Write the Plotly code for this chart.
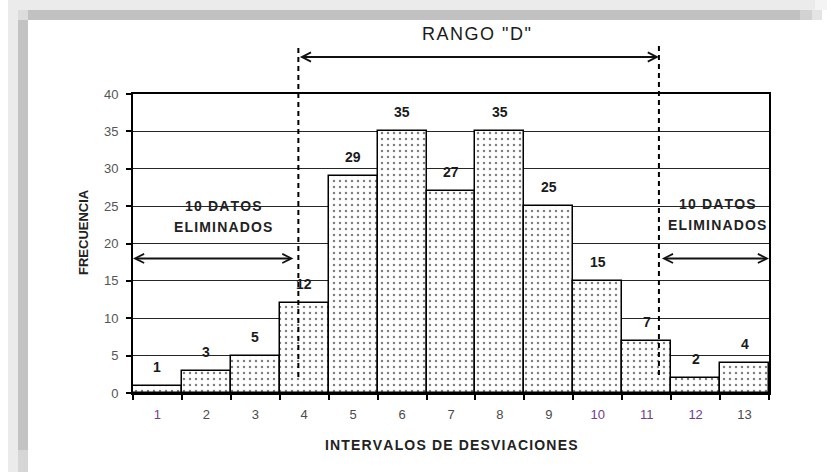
import plotly.graph_objects as go

# ---------------- data ----------------
categories = list(range(1, 14))
frequencies = [1, 3, 5, 12, 29, 35, 27, 35, 25, 15, 7, 2, 4]
tick_labels = [str(c) for c in categories]
purple_ticks = [1, 10, 11, 12]
y_ticks = [0, 5, 10, 15, 20, 25, 30, 35, 40]

range_title = 'RANGO "D"'
removed_line1 = "10 DATOS"
removed_line2 = "ELIMINADOS"
y_title = "FRECUENCIA"
x_title = "INTERVALOS DE DESVIACIONES"

# positions of annotation guides (data units of the x axis)
range_start = 3.88
range_end = 11.25
side_arrow_y = 18

# ---------------- layout geometry ----------------
W, H = 827, 472
L, R, T, B = 133, 58, 94, 79
PW = W - L - R
PH = H - T - B


def px(x):
    return (x - L) / PW


def py(y):
    return (H - B - y) / PH


FONT = "Liberation Sans, Arial, sans-serif"
HS = "\u200a"


def spaced(s):
    return HS.join(list(s))


fig = go.Figure()
fig.add_trace(go.Bar(
    x=categories,
    y=frequencies,
    width=1,
    marker=dict(
        color="white",
        line=dict(color="black", width=1.5),
        pattern=dict(shape=".", fgcolor="black", bgcolor="white", size=6, solidity=0.13),
    ),
    hoverinfo="x+y",
    showlegend=False,
))

ticktext = []
for c, t in zip(categories, tick_labels):
    col = "#70408a" if c in purple_ticks else "#4a4a4a"
    ticktext.append(f"<span style='color:{col}'>{t}</span>")

annotations = []
for c, v in zip(categories, frequencies):
    annotations.append(dict(
        x=c, y=v, xref="x", yref="y", text=f"<b>{v}</b>", showarrow=False,
        xanchor="center", yanchor="middle",
        yshift=19, font=dict(family=FONT, size=14, color="#1a1a1a"),
    ))

arrow_style = dict(text="", showarrow=True, arrowhead=5, arrowside="end+start",
                   arrowwidth=2, arrowsize=0.9, arrowcolor="#111", standoff=0, startstandoff=0)
# range arrow
annotations.append(dict(x=range_end, y=py(57), xref="x", yref="paper",
                        ax=range_start, ay=0, axref="x", ayref="pixel", **arrow_style))
# left arrow
annotations.append(dict(x=0.5, y=side_arrow_y, xref="x", yref="y",
                        ax=range_start - 0.07, ay=0, axref="x", ayref="pixel", **arrow_style))
# right arrow
annotations.append(dict(x=13.5, y=side_arrow_y, xref="x", yref="y",
                        ax=range_end + 0.03, ay=0, axref="x", ayref="pixel", **arrow_style))


def label(xp, yp, text, size, bold=True, angle=0, color="#222"):
    t = f"<b>{text}</b>" if bold else text
    return dict(x=px(xp), y=py(yp), xref="paper", yref="paper", text=t, showarrow=False,
                xanchor="center", yanchor="middle", textangle=angle,
                font=dict(family=FONT, size=size, color=color))


annotations += [
    label(476, 34, spaced(range_title), 18, bold=False, color="#1a1a1a"),
    label(223, 206, spaced(removed_line1), 14),
    label(222.5, 227, spaced(removed_line2), 14),
    label(717, 204, spaced(removed_line1), 14),
    label(716.5, 225, spaced(removed_line2), 14),
    label(83, 232, y_title, 13, angle=-90),
    label(451, 444.5, spaced(x_title), 14),
]

shapes = []
# dashed range boundaries
for xv, ybot in [(range_start, 377), (range_end, 375)]:
    shapes.append(dict(type="line", xref="x", yref="paper", x0=xv, x1=xv, y0=py(ybot), y1=py(45),
                       line=dict(color="black", width=2, dash="5px,4px"), layer="above"))


# grey frame around the picture
def rect(x0, y0, x1, y1, color):
    return dict(type="rect", xref="paper", yref="paper", x0=px(x0), x1=px(x1), y0=py(y1), y1=py(y0),
                line=dict(width=0), fillcolor=color, layer="above")


shapes += [
    rect(8, 0, 815, 10, "#ebebeb"),
    rect(815, 0, 827, 10, "#f4f4f4"),
    rect(28, 10, 800, 20, "#c1c1c1"),
    rect(800, 10, 812, 20, "#d2d2d2"),
    rect(812, 10, 822, 20, "#e4e4e4"),
    rect(8, 10, 18, 472, "#ebebeb"),
    rect(18, 10, 28, 20, "#dcdcdc"),
    rect(18, 20, 28, 450, "#c3c3c3"),
    rect(18, 450, 28, 472, "#d6d6d6"),
]

fig.update_layout(
    width=W, height=H,
    margin=dict(l=L, r=R, t=T, b=B, pad=0),
    paper_bgcolor="white",
    plot_bgcolor="white",
    bargap=0,
    font=dict(family=FONT),
    annotations=annotations,
    shapes=shapes,
    xaxis=dict(
        range=[0.5, 13.5], autorange=False,
        tickmode="array", tickvals=categories, ticktext=ticktext,
        ticks="outside", ticklen=8, tickcolor="rgba(0,0,0,0)",
        minor=dict(tickmode="array", tickvals=[c - 0.5 for c in categories] + [categories[-1] + 0.5],
                   ticks="outside", ticklen=5, tickcolor="black", tickwidth=1.5, showgrid=False),
        tickfont=dict(family=FONT, size=13, color="#4a4a4a"),
        showline=True, linecolor="black", linewidth=2, mirror=True,
        showgrid=False, zeroline=False, automargin=False,
    ),
    yaxis=dict(
        range=[0, 40], autorange=False,
        tickmode="array", tickvals=y_ticks,
        ticks="outside", ticklen=5, tickcolor="black", tickwidth=1.5,
        ticklabelstandoff=5,
        tickfont=dict(family=FONT, size=13, color="#555"),
        showgrid=True, gridcolor="#262626", gridwidth=1.2,
        showline=True, linecolor="black", linewidth=2, mirror=True,
        zeroline=False, automargin=False,
    ),
)

fig.write_html(
    "out.html",
    config={"displayModeBar": False},
    post_script="document.body.style.margin='0';document.body.style.padding='0';",
)
